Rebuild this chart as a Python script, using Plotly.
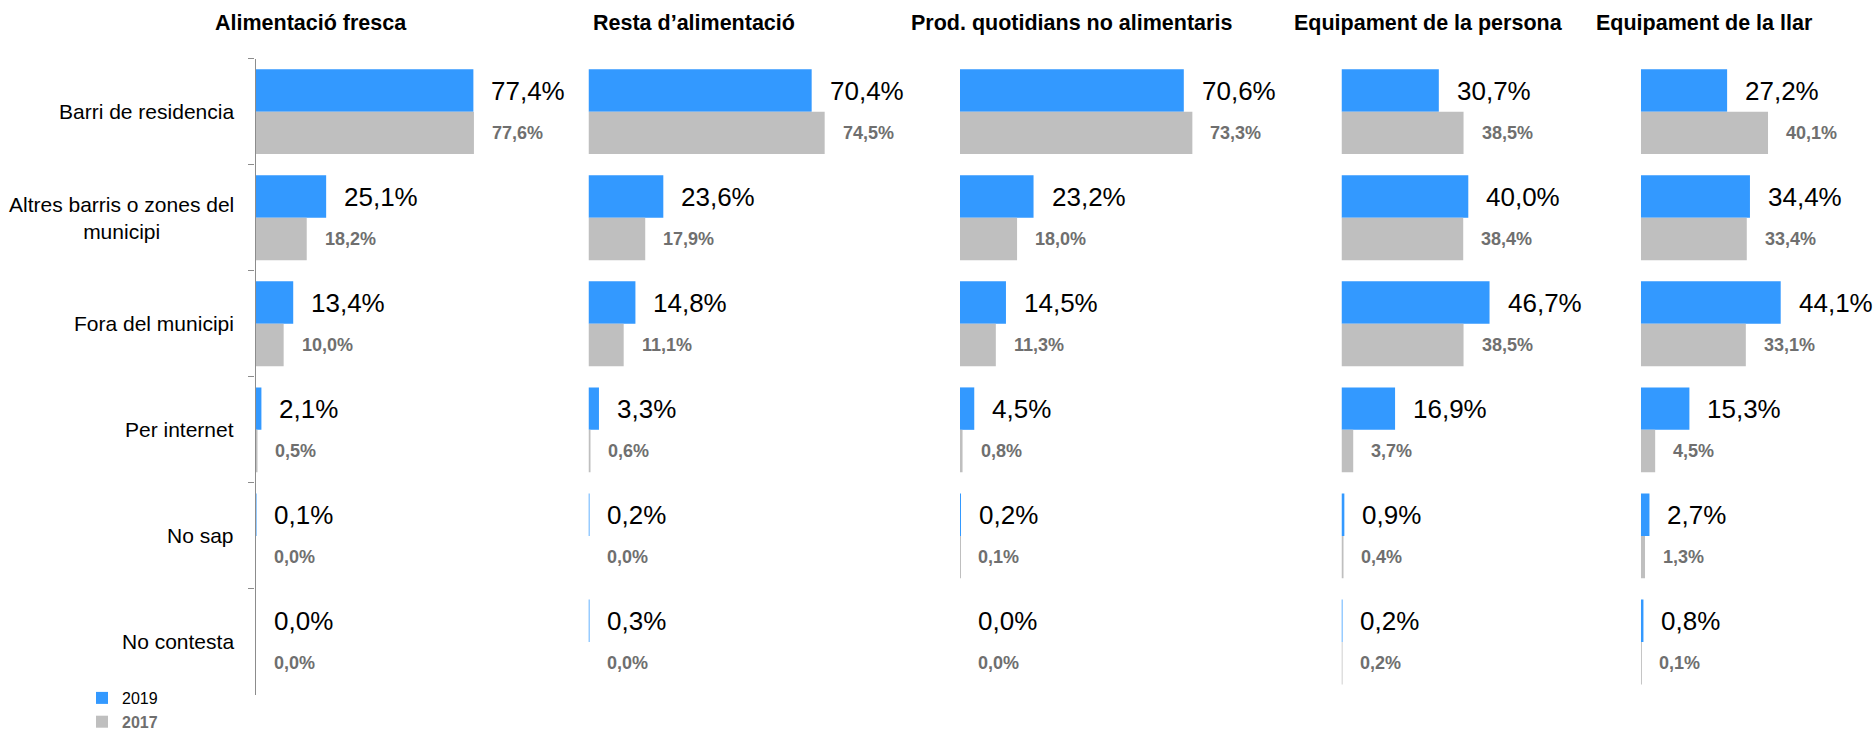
import plotly.graph_objects as go

# Categories (one per row, top to bottom)
categories = [
    "Barri de residencia",
    "Altres barris o zones del<br>municipi",
    "Fora del municipi",
    "Per internet",
    "No sap",
    "No contesta",
]

# Panel titles
panel_titles = [
    "Alimentació fresca",
    "Resta d’alimentació",
    "Prod. quotidians no alimentaris",
    "Equipament de la persona",
    "Equipament de la llar",
]

# Percentages per panel, 2019
alimentacio_fresca_2019 = [77.4, 25.1, 13.4, 2.1, 0.1, 0.0]
resta_alimentacio_2019 = [70.4, 23.6, 14.8, 3.3, 0.2, 0.3]
prod_quotidians_2019 = [70.6, 23.2, 14.5, 4.5, 0.2, 0.0]
equip_persona_2019 = [30.7, 40.0, 46.7, 16.9, 0.9, 0.2]
equip_llar_2019 = [27.2, 34.4, 44.1, 15.3, 2.7, 0.8]

# Percentages per panel, 2017
alimentacio_fresca_2017 = [77.6, 18.2, 10.0, 0.5, 0.0, 0.0]
resta_alimentacio_2017 = [74.5, 17.9, 11.1, 0.6, 0.0, 0.0]
prod_quotidians_2017 = [73.3, 18.0, 11.3, 0.8, 0.1, 0.0]
equip_persona_2017 = [38.5, 38.4, 38.5, 3.7, 0.4, 0.2]
equip_llar_2017 = [40.1, 33.4, 33.1, 4.5, 1.3, 0.1]

series_2019 = [alimentacio_fresca_2019, resta_alimentacio_2019, prod_quotidians_2019,
               equip_persona_2019, equip_llar_2019]
series_2017 = [alimentacio_fresca_2017, resta_alimentacio_2017, prod_quotidians_2017,
               equip_persona_2017, equip_llar_2017]

# ---- layout constants (pixels) ----
W, H = 1876, 732
FONT = "Liberation Sans, Arial, Helvetica, sans-serif"
BLUE = "#3399FF"
GREY = "#BFBFBF"
GREY_TEXT = "#6F6F6F"
AXIS_GREY = "#8C8C8C"

panel_start_px = [255.5, 588.5, 960.0, 1341.5, 1640.9]
panel_px_per_pct = [2.815, 3.17, 3.17, 3.17, 3.17]
panel_range_max = [100, 90, 90, 90, 70]
title_center_px = [311, 694, 1071, 1428, 1704]

y_top_px, y_bottom_px = 58.6, 695.0
bar_half_px = 21


def fmt(v):
    return f"{v:.1f}".replace(".", ",") + "%"


fig = go.Figure()
annotations = []

for i in range(5):
    xa = "x" if i == 0 else f"x{i + 1}"
    fig.add_trace(go.Bar(
        y=categories, x=series_2019[i], orientation="h",
        name="2019", marker=dict(color=BLUE, line=dict(width=0)),
        xaxis=xa, yaxis="y", showlegend=(i == 0), legendrank=1,
        hoverinfo="skip",
    ))
    fig.add_trace(go.Bar(
        y=categories, x=series_2017[i], orientation="h",
        name=f"<span style='color:{GREY_TEXT}'><b>2017</b></span>",
        marker=dict(color=GREY, line=dict(width=0)),
        xaxis=xa, yaxis="y", showlegend=(i == 0), legendrank=2,
        hoverinfo="skip",
    ))

    # value labels next to bar ends
    for cat, v19, v17 in zip(categories, series_2019[i], series_2017[i]):
        annotations.append(dict(
            x=v19, y=cat, xref=xa, yref="y", text=fmt(v19), showarrow=False,
            xanchor="left", yanchor="middle", xshift=16, yshift=bar_half_px,
            font=dict(family=FONT, size=26, color="#000000"),
        ))
        annotations.append(dict(
            x=v17, y=cat, xref=xa, yref="y", text=f"<b>{fmt(v17)}</b>", showarrow=False,
            xanchor="left", yanchor="middle", xshift=16, yshift=-bar_half_px,
            font=dict(family=FONT, size=18, color=GREY_TEXT),
        ))

    # panel title
    annotations.append(dict(
        x=title_center_px[i] / W, y=1 - 23 / H, xref="paper", yref="paper",
        text=f"<b>{panel_titles[i]}</b>", showarrow=False,
        xanchor="center", yanchor="middle",
        font=dict(family=FONT, size=21.5, color="#000000"),
    ))

# category labels, centred lines, right-aligned block
for cat in categories:
    annotations.append(dict(
        x=236 / W, y=cat, xref="paper", yref="y", text=cat, showarrow=False,
        xanchor="right", yanchor="middle", align="center",
        font=dict(family=FONT, size=21, color="#000000"),
    ))

layout = dict(
    width=W, height=H, autosize=False,
    margin=dict(l=0, r=0, t=0, b=0, pad=0, autoexpand=False),
    paper_bgcolor="white", plot_bgcolor="white",
    barmode="group", bargap=0.2, bargroupgap=0,
    font=dict(family=FONT, color="#000000"),
    showlegend=True,
    legend=dict(
        x=82 / W, y=1 - 681 / H, xanchor="left", yanchor="top",
        font=dict(family=FONT, size=16, color="#000000"),
        bgcolor="rgba(0,0,0,0)", traceorder="normal",
        itemclick=False, itemdoubleclick=False,
    ),
    yaxis=dict(
        type="category", categoryorder="array", categoryarray=categories,
        autorange="reversed",
        domain=[1 - y_bottom_px / H, 1 - y_top_px / H],
        anchor="x", showline=True, linecolor=AXIS_GREY, linewidth=1.3,
        ticks="outside", tickson="boundaries", ticklen=6, tickwidth=1.3,
        tickcolor=AXIS_GREY, showticklabels=False, showgrid=False, zeroline=False,
    ),
    annotations=annotations,
)

for i in range(5):
    key = "xaxis" if i == 0 else f"xaxis{i + 1}"
    start = panel_start_px[i]
    end = start + panel_range_max[i] * panel_px_per_pct[i]
    layout[key] = dict(
        domain=[start / W, end / W], range=[0, panel_range_max[i]],
        anchor="y", showline=False, showticklabels=False, showgrid=False,
        zeroline=False, ticks="", fixedrange=True,
    )

fig.update_layout(**layout)
fig.update_traces(cliponaxis=False)

fig.write_html("out.html")
